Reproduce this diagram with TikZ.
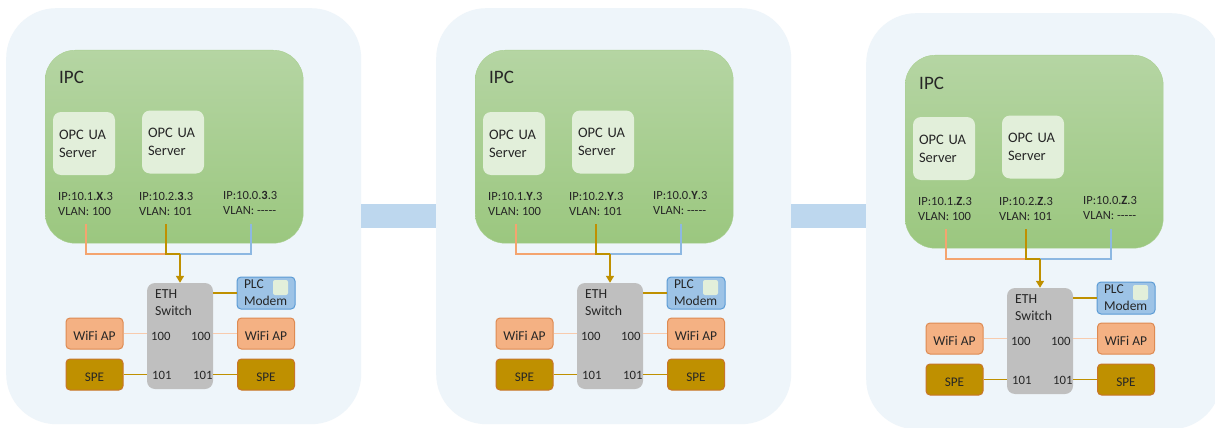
\documentclass[tikz,border=0pt]{standalone}
\usepackage{fontspec}
\setmainfont{Carlito}
\usetikzlibrary{arrows.meta}

\definecolor{panelbg}{HTML}{EEF5FA}
\definecolor{barblue}{HTML}{BDD7EE}
\definecolor{ipctop}{HTML}{B5D5A3}
\definecolor{ipcbot}{HTML}{9BC77F}
\definecolor{ipcedge}{HTML}{A9CF90}
\definecolor{srvfill}{HTML}{E2EFDA}
\definecolor{swgray}{HTML}{BFBFBF}
\definecolor{plcfill}{HTML}{9DC3E6}
\definecolor{plcedge}{HTML}{5B9BD5}
\definecolor{wififill}{HTML}{F4B183}
\definecolor{wifiedge}{HTML}{DE8A52}
\definecolor{spefill}{HTML}{BF9000}
\definecolor{speedge}{HTML}{C8752A}
\definecolor{lineorange}{HTML}{F4A46F}
\definecolor{linepeach}{HTML}{F8CBAD}
\definecolor{linegold}{HTML}{BF9000}
\definecolor{lineblue}{HTML}{8DB8E2}
\definecolor{txt}{HTML}{262626}

\begin{document}
\begin{tikzpicture}[x=1pt,y=-1pt,text=txt,
  panel/.style={fill=panelbg,rounded corners=50pt,minimum width=355pt,minimum height=416pt,anchor=north west,inner sep=0pt},
  ipcbox/.style={draw=ipcedge,top color=ipctop,bottom color=ipcbot,rounded corners=30pt,minimum width=258pt,minimum height=193pt,anchor=north west,inner sep=0pt},
  ipclabel/.style={anchor=base west,inner sep=0pt,font=\fontsize{19}{22}\selectfont},
  srvbox/.style={fill=srvfill,rounded corners=8pt,minimum width=62pt,minimum height=63pt,text width=50pt,inner xsep=6pt,align=left,font=\fontsize{14.5}{18}\selectfont},
  iptext/.style={anchor=north west,inner sep=0pt,align=left,font=\fontsize{12.5}{15}\selectfont},
  swbox/.style={fill=swgray,rounded corners=8pt,minimum width=66pt,minimum height=106pt,inner sep=0pt},
  swtext/.style={anchor=north west,inner sep=0pt,align=left,font=\fontsize{13.8}{17}\selectfont},
  plcbox/.style={draw=plcedge,line width=1pt,fill=plcfill,rounded corners=4pt,minimum width=58pt,minimum height=32pt,text width=44pt,inner xsep=7pt,inner ysep=0pt,align=left,font=\fontsize{13.5}{17}\selectfont},
  minisq/.style={fill=srvfill,rounded corners=2pt,minimum size=15pt,inner sep=0pt},
  wifibox/.style={draw=wifiedge,line width=1pt,fill=wififill,rounded corners=4pt,minimum width=57pt,minimum height=31pt,text height=14pt,text depth=0pt,inner sep=0pt,font=\fontsize{13.5}{16}\selectfont},
  spebox/.style={wifibox,draw=speedge,fill=spefill,font=\fontsize{13.2}{16}\selectfont},
  port/.style={anchor=base west,inner sep=0pt,font=\fontsize{12.7}{15}\selectfont},
  lorange/.style={draw=lineorange,line width=1.3pt},
  lpeach/.style={draw=linepeach,line width=1.3pt},
  lgold/.style={draw=linegold,line width=1.3pt},
  lblue/.style={draw=lineblue,line width=1.3pt},
  bar/.style={draw=barblue,line width=24pt}]

\clip (0,0) rectangle (1215,428);
\fill[white] (0,0) rectangle (1215,428);

\foreach \i/\dx/\dy/\ka/\kb in {1/0/0/X/3, 2/430/0/Y/Y, 3/860/5/Z/Z}{
\begin{scope}[shift={(\dx,\dy)}]
\node[panel] (pan\i) at (6,8) {};
\node[ipcbox] (ipc\i) at (45,50) {};
\node[ipclabel] (ipct\i) at (59,84) {IPC};
\node[srvbox] (srva\i) at (84,143.5) {OPC UA\\Server};
\node[srvbox] (srvb\i) at (173,142) {OPC UA\\Server};
\node[iptext] (vlana\i) at (58,192) {IP:10.1.\textbf{\ka}.3\\VLAN: 100};
\node[iptext] (vlanb\i) at (139,192) {IP:10.2.\textbf{\kb}.3\\VLAN: 101};
\node[iptext] (vlanc\i) at (223,191) {IP:10.0.\textbf{\kb}.3\\VLAN: -{}-{}-{}-{}-};

\node[swbox] (sw\i) at (180,336) {};
\node[swtext] (swt\i) at (155,289.5) {ETH\\Switch};
\node[plcbox] (plc\i) at (266,293) {PLC\\Modem};
\node[minisq] (sq\i) at (280.5,287.5) {};
\node[wifibox] (wfl\i) at (94.5,333.5) {WiFi AP};
\node[wifibox] (wfr\i) at (266,333.5) {WiFi AP};
\node[spebox] (spl\i) at (94.5,374.5) {SPE};
\node[spebox] (spr\i) at (266,374.5) {SPE};
\node[port] (pa\i) at (151,340.5) {100};
\node[port] (pb\i) at (191,340.5) {100};
\node[port] (pc\i) at (152,379) {101};
\node[port] (pd\i) at (193,379) {101};

\coordinate (ca\i) at (86,224);
\coordinate (cb\i) at (166,224);
\coordinate (cc\i) at (251,224);
\coordinate (j\i) at (180,254);
\draw[lorange] (ca\i) |- (j\i);
\draw[lblue] (cc\i) |- (j\i);
\draw[lgold] (cb\i) |- (j\i);
\draw[lgold,line width=1.6pt,-{Triangle[width=8pt,length=7pt]}] (j\i) -- (sw\i);

\draw[lpeach] (wfl\i) -- (wfl\i -| sw\i.west);
\draw[lpeach] (wfr\i) -- (wfr\i -| sw\i.east);
\draw[lgold] (spl\i) -- (spl\i -| sw\i.west);
\draw[lgold] (spr\i) -- (spr\i -| sw\i.east);
\draw[lgold] (plc\i) -- (plc\i -| sw\i.east);
\end{scope}
}

\draw[bar] (pan1) -- (pan2);
\draw[bar] (pan2.east) -- (pan2.east -| pan3.west);

\end{tikzpicture}
\end{document}
